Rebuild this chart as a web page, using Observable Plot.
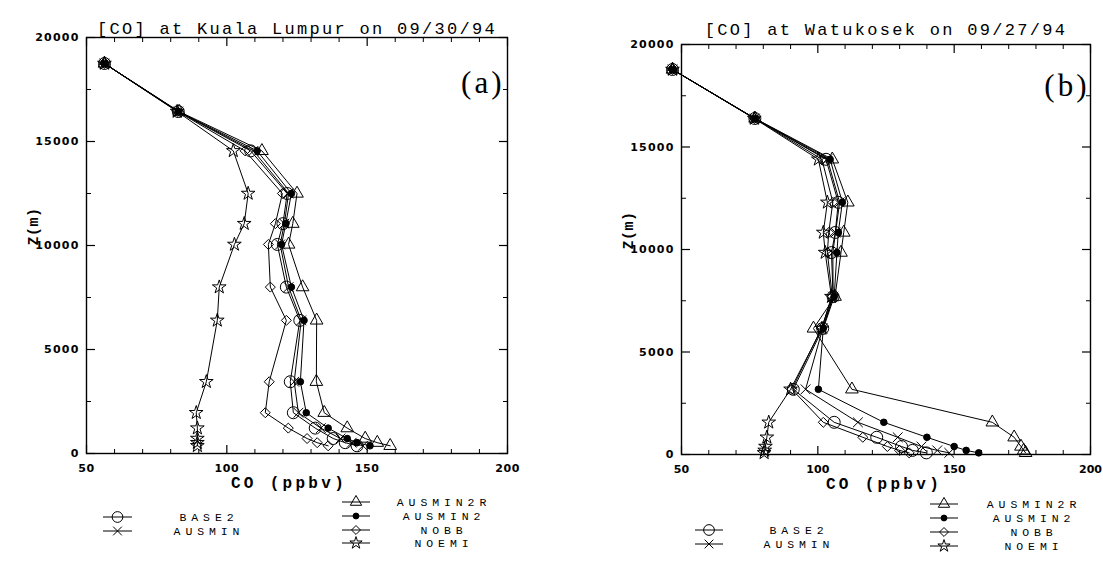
<!DOCTYPE html>
<html><head><meta charset="utf-8">
<script src="https://cdn.jsdelivr.net/npm/d3@7"></script>
<script src="https://cdn.jsdelivr.net/npm/@observablehq/plot@0.6"></script>
<style>
body{margin:0;background:#fff;}
#wrap{position:relative;width:1103px;height:567px;overflow:hidden;background:#fff;}
#wrap svg{position:absolute;top:0;overflow:visible;}
</style>
</head><body><div id="wrap"></div>
<script>
// ---------- data ----------
const seriesNames = ["BASE2","AUSMIN","AUSMIN2R","AUSMIN2","NOBB","NOEMI"];
const xTicks = [50,100,150,200];
const xMinor = [60,70,80,90,110,120,130,140,160,170,180,190];
const yTicks = [0,5000,10000,15000,20000];
const yMinor = [2500,7500,12500,17500];

// Panel (a): Kuala Lumpur, 09/30/94
const zA = [18750,16440,14550,12500,11050,10050,8000,6400,3450,1960,1220,720,520,370];
const a_BASE2    = [56.4,82.7,108.5,121.5,120.0,118.0,121.2,126.0,122.6,123.7,131.5,137.9,142.2,146.4];
const a_AUSMIN   = [56.4,82.7,109.5,122.0,120.5,119.0,122.0,126.5,124.0,125.5,133.5,140.5,144.5,148.5];
const a_AUSMIN2R = [56.4,83.0,112.5,125.0,123.5,122.0,127.0,132.0,131.9,134.7,142.9,149.3,153.6,158.2];
const a_AUSMIN2  = [56.4,82.7,110.8,123.0,121.0,119.5,123.0,127.5,126.2,128.3,136.1,142.9,146.4,151.0];
const a_NOBB     = [56.4,82.5,106.5,119.8,117.3,114.8,115.5,121.2,115.1,113.7,121.9,128.6,132.2,136.1];
const a_NOEMI    = [56.4,82.3,102.3,107.6,106.2,102.7,97.3,96.6,92.7,89.1,89.5,89.5,89.5,89.5];

// Panel (b): Watukosek, 09/27/94
const zB = [18780,16390,14400,12300,10830,9850,7700,6150,3180,1570,840,390,200,80];
const b_BASE2    = [46.7,76.9,103.0,107.5,106.4,105.0,105.6,101.8,91.0,106.0,121.6,130.7,134.7,139.8];
const b_AUSMIN   = [46.7,76.9,103.5,108.0,106.5,105.5,105.6,101.8,95.5,114.7,129.3,138.0,143.8,148.2];
const b_AUSMIN2R = [46.7,77.0,105.3,111.0,109.5,108.5,106.3,98.4,112.5,164.0,172.0,174.5,175.5,176.2];
const b_AUSMIN2  = [46.7,76.9,104.5,109.0,107.5,107.0,106.0,102.0,100.2,124.2,140.0,150.0,154.4,159.0];
const b_NOBB     = [46.7,76.8,101.5,105.5,104.0,103.5,105.3,101.3,90.5,102.0,116.5,125.5,130.0,133.5];
const b_NOEMI    = [46.7,76.7,100.2,103.5,102.0,102.7,105.0,101.5,90.0,82.0,81.3,80.8,80.5,80.3];

const titleA = "[CO] at Kuala Lumpur on 09/30/94";
const titleB = "[CO] at Watukosek on 09/27/94";
const xLabel = "CO (ppbv)";
const yLabel = "Z(m)";

// ---------- styles ----------
const sym = {
  BASE2:    {symbol:"circle",   r:6.0, fill:"none"},
  AUSMIN:   {symbol:"times",    r:4.5, fill:"none"},
  AUSMIN2R: {symbol:"triangle", r:4.7, fill:"none"},
  AUSMIN2:  {symbol:"circle",   r:3.3, fill:"black"},
  NOBB:     {symbol:"diamond2", r:4.5, fill:"none"},
  NOEMI:    {symbol:"star",     r:4.3, fill:"none"}
};
const d3sym = {circle:d3.symbolCircle, times:d3.symbolTimes, triangle:d3.symbolTriangle, diamond2:d3.symbolDiamond2, star:d3.symbolStar};
const mono = "Liberation Mono, DejaVu Sans Mono, monospace";

function rowsOf(levels, vals){
  const rows = [];
  seriesNames.forEach((s,i)=>levels.forEach((z,j)=>rows.push({series:s, x:vals[i][j], z})));
  return rows;
}

function panel(o){
  const rows = rowsOf(o.levels, o.vals);
  const tickFont = {fontFamily:"DejaVu Sans, sans-serif", fontSize:11, fontWeight:"bold"};
  const marks = [
    Plot.frame({stroke:"black", strokeWidth:1.4}),
    Plot.axisX(xTicks, {anchor:"bottom", tickSize:-8, tickFormat:()=>"", label:null, strokeWidth:1.2}),
    Plot.axisX(xMinor, {anchor:"bottom", tickSize:-4, tickFormat:()=>"", label:null}),
    Plot.axisX(xTicks, {anchor:"top", tickSize:-8, tickFormat:()=>"", label:null, strokeWidth:1.2}),
    Plot.axisX(xMinor, {anchor:"top", tickSize:-4, tickFormat:()=>"", label:null}),
    Plot.axisX(xTicks, {anchor:"bottom", tickSize:0, tickPadding:11, label:null, ...tickFont}),
    Plot.axisY(yTicks, {anchor:"left", tickSize:-9, tickFormat:()=>"", label:null, strokeWidth:1.2}),
    Plot.axisY(yMinor, {anchor:"left", tickSize:-5, tickFormat:()=>"", label:null}),
    Plot.axisY(yTicks, {anchor:"right", tickSize:-9, tickFormat:()=>"", label:null, strokeWidth:1.2}),
    Plot.axisY(yMinor, {anchor:"right", tickSize:-5, tickFormat:()=>"", label:null}),
    Plot.axisY(yTicks, {anchor:"left", tickSize:0, tickPadding:7, label:null, tickFormat:d=>String(d), ...tickFont}),
    Plot.text([o.title], {frameAnchor:"top", dx:o.titleDx, dy:o.titleDy, fontFamily:mono, fontSize:17}),
    Plot.text([xLabel], {frameAnchor:"bottom", dx:o.xlDx, dy:34, fontFamily:mono, fontSize:16, fontWeight:"bold"}),
    Plot.text([yLabel], {frameAnchor:"left", dx:-53, rotate:-90, fontFamily:mono, fontSize:15, fontWeight:"bold"}),
    Plot.text([o.tag], {frameAnchor:"top-right", dx:o.tagDx, dy:o.tagDy, textAnchor:"end", fontFamily:"Liberation Serif, serif", fontSize:31}),
    Plot.line(rows, {x:"x", y:"z", z:"series", stroke:"black", strokeWidth:1})
  ];
  for (const s of seriesNames){
    const st = sym[s];
    marks.push(Plot.dot(rows.filter(d=>d.series===s), {x:"x", y:"z", symbol:st.symbol, r:st.r, stroke:"black", fill:st.fill, strokeWidth:1}));
  }
  const svg = Plot.plot({
    width:o.width, height:567,
    marginLeft:o.mL, marginRight:o.mR, marginTop:o.mT, marginBottom:o.mB,
    x:{domain:[50,200]}, y:{domain:[0,20000]},
    style:{background:"transparent", overflow:"visible", color:"black"},
    marks
  });
  svg.style.left = o.left + "px";
  // letter spacing for the typewriter-like texts
  d3.select(svg).selectAll("text").each(function(){
    const t = this.textContent;
    const lab = this.parentNode && this.parentNode.getAttribute("aria-label");
    let ls = null;
    if (t === o.title) ls = "2.3px";
    else if (t === xLabel) ls = "3.3px";
    else if (t === yLabel) ls = "0.5px";
    else if (t === o.tag) ls = "3px";
    else if (lab === "y-axis tick label") ls = "1.2px";
    else if (lab === "x-axis tick label") ls = o.xls;
    if (ls) this.style.letterSpacing = ls;
  });
  // legend
  const g = d3.select(svg).append("g");
  const entry = (s, lx1, lx2, y, tx) => {
    const st = sym[s];
    g.append("line").attr("x1",lx1).attr("x2",lx2).attr("y1",y).attr("y2",y).attr("stroke","black").attr("stroke-width",1);
    const size = Math.PI*st.r*st.r*0.8;
    g.append("path").attr("d", d3.symbol(d3sym[st.symbol], size)()).attr("transform",`translate(${(lx1+lx2)/2},${y})`)
      .attr("fill", st.fill).attr("stroke","black").attr("stroke-width",1);
    g.append("text").attr("x",tx).attr("y",y).attr("dy","0.36em").attr("text-anchor","middle")
      .attr("font-family",mono).attr("font-size",11.5).style("letter-spacing","4.9px").text(s);
  };
  const L = o.leg;
  entry("BASE2", L.l1, L.l2, L.ly[0], L.lt);
  entry("AUSMIN", L.l1, L.l2, L.ly[1], L.lt);
  entry("AUSMIN2R", L.r1, L.r2, L.ry[0], L.rt);
  entry("AUSMIN2", L.r1, L.r2, L.ry[1], L.rt);
  entry("NOBB", L.r1, L.r2, L.ry[2], L.rt);
  entry("NOEMI", L.r1, L.r2, L.ry[3], L.rt);
  return svg;
}

const wrap = document.getElementById("wrap");
wrap.appendChild(panel({
  left:0, width:551, mL:86, mR:44, mT:37, mB:114, xls:"0.6px",
  levels:zA, vals:[a_BASE2,a_AUSMIN,a_AUSMIN2R,a_AUSMIN2,a_NOBB,a_NOEMI],
  title:titleA, titleDx:0, titleDy:-16, xlDx:-8, tag:"(a)", tagDx:-3, tagDy:33,
  leg:{l1:103, l2:132, lt:209, ly:[517,531], r1:342, r2:370, rt:444, ry:[502,516,530,543]}
}));
wrap.appendChild(panel({
  left:551, width:552, mL:130, mR:13, mT:44, mB:113, xls:"0px",
  levels:zB, vals:[b_BASE2,b_AUSMIN,b_AUSMIN2R,b_AUSMIN2,b_NOBB,b_NOEMI],
  title:titleB, titleDx:0, titleDy:-22, xlDx:-2, tag:"(b)", tagDx:-1, tagDy:29,
  leg:{l1:144, l2:172, lt:248, ly:[530,544], r1:379, r2:407, rt:483, ry:[504,518,532,546]}
}));
</script></body></html>
